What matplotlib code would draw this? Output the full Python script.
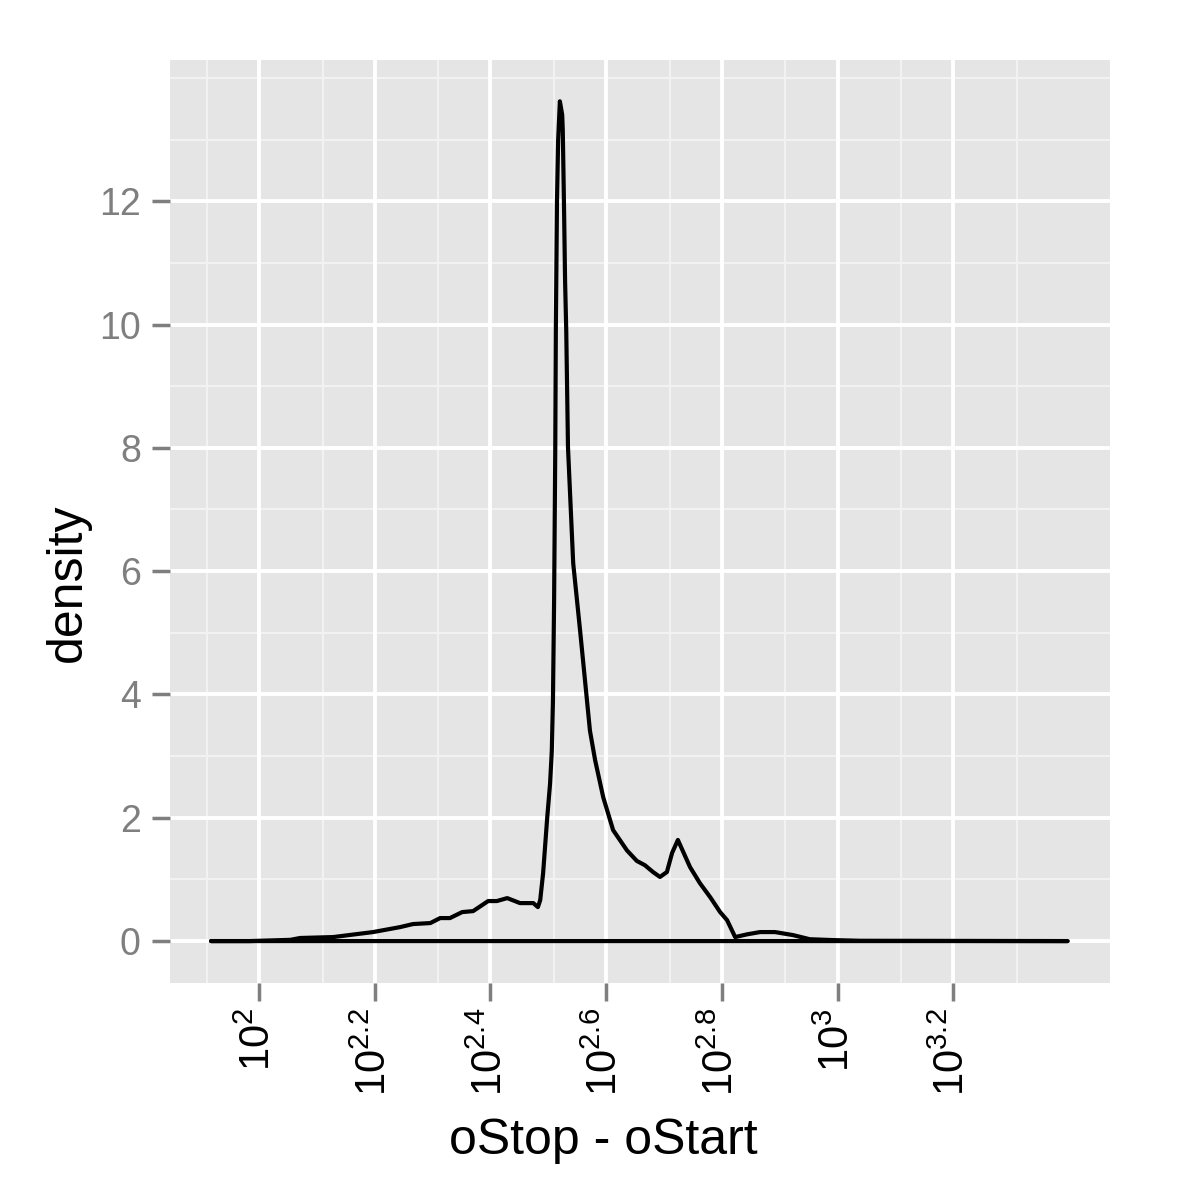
import matplotlib
matplotlib.use('Agg')
import matplotlib.pyplot as plt

plt.rcParams['font.family'] = ['Liberation Sans', 'DejaVu Sans']
plt.rcParams['mathtext.default'] = 'regular'

# density curve, x in log10(oStop - oStart)
log_len = [1.917, 1.984, 2.054, 2.071, 2.128, 2.197, 2.244, 2.266, 2.296, 2.313,
           2.330, 2.351, 2.370, 2.396, 2.411, 2.429, 2.451, 2.474, 2.482, 2.486,
           2.491, 2.498, 2.503, 2.506, 2.508, 2.510, 2.512, 2.513, 2.515, 2.517,
           2.520, 2.524, 2.525, 2.527, 2.529, 2.531, 2.534, 2.543, 2.555, 2.572,
           2.581, 2.595, 2.612, 2.636, 2.653, 2.667, 2.681, 2.693, 2.705, 2.714,
           2.724, 2.745, 2.762, 2.780, 2.797, 2.809, 2.823, 2.844, 2.866, 2.892,
           2.923, 2.952, 2.992, 3.039, 3.398]
density = [0, 0, 0.02, 0.05, 0.065, 0.146, 0.227, 0.276, 0.292, 0.373,
           0.373, 0.47, 0.486, 0.649, 0.649, 0.697, 0.616, 0.616, 0.551, 0.665,
           1.10, 1.99, 2.55, 3.08, 3.89, 5.52, 7.96, 9.90, 12.0, 12.99,
           13.62, 13.40, 13.15, 12.0, 10.7, 9.90, 8.01, 6.13, 5.03, 3.41,
           2.93, 2.33, 1.80, 1.47, 1.30, 1.23, 1.12, 1.04, 1.12, 1.43,
           1.64, 1.20, 0.94, 0.71, 0.47, 0.34, 0.065, 0.11, 0.146, 0.146,
           0.097, 0.03, 0.016, 0.005, 0]

x_major = [2.0, 2.2, 2.4, 2.6, 2.8, 3.0, 3.2]
x_labels = ['2', '2.2', '2.4', '2.6', '2.8', '3', '3.2']
x_minor = [1.91, 2.11, 2.31, 2.51, 2.71, 2.91, 3.11, 3.31]
y_major = [0, 2, 4, 6, 8, 10, 12]
y_minor = [1, 3, 5, 7, 9, 11, 13, 14]

fig = plt.figure(figsize=(12, 12), dpi=100)
ax = fig.add_axes([170/1200, 217/1200, 940/1200, 923/1200])
ax.set_facecolor('#E5E5E5')

for v in x_minor:
    ax.axvline(v, color='#F2F2F2', lw=1.5, zorder=0)
for v in y_minor:
    ax.axhline(v, color='#F2F2F2', lw=1.5, zorder=0)
for v in x_major:
    ax.axvline(v, color='white', lw=2.8, zorder=0)
for v in y_major:
    ax.axhline(v, color='white', lw=2.8, zorder=0)

# closed outline like geom_density (curve + baseline)
ax.fill(log_len, density, facecolor='none', edgecolor='black', lw=3.0,
        joinstyle='round', zorder=2)

ax.set_xlim(1.846, 3.471)
ax.set_ylim(-0.68, 14.29)

for s in ax.spines.values():
    s.set_visible(False)

ax.set_xticks(x_major)
ax.set_xticklabels(['$10^{%s}$' % l for l in x_labels], rotation=90,
                   va='top', ha='center')
ax.set_yticks(y_major)
ax.set_yticklabels([str(v) for v in y_major])
ax.tick_params(axis='x', length=13, width=2.5, color='#7F7F7F', pad=5,
               labelsize=30, labelcolor='black')
ax.tick_params(axis='y', length=13, width=2.5, color='#7F7F7F', pad=8,
               labelsize=27, labelcolor='#7F7F7F')

fig.text(603/1200, 1 - 1141/1200, 'oStop - oStart', fontsize=36,
         ha='center', va='center')
fig.text(68/1200, 1 - 583/1200, 'density', fontsize=36, rotation=90,
         ha='center', va='center')

fig.savefig('out.png', dpi=100, facecolor='white')
